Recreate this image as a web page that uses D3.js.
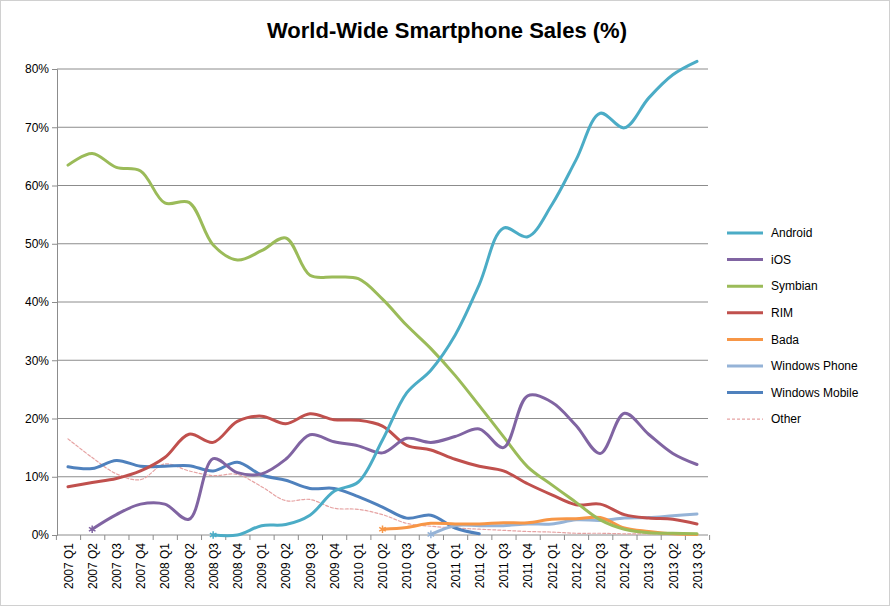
<!DOCTYPE html>
<html><head><meta charset="utf-8">
<script src="https://cdn.jsdelivr.net/npm/d3@7"></script>
<style>body{margin:0;background:#fff}</style></head>
<body><div id="chart"></div>
<script>
// quarters 2007 Q1 .. 2013 Q3
var quarters = [];
for (var y = 2007; y <= 2013; y++) {
    for (var q = 1; q <= 4; q++) {
        if (y === 2013 && q > 3) break;
        quarters.push(y + " Q" + q);
    }
}

// start index + values (%)
var series = [
    {name: "Android", color: "#4bacc6", start: 6, marker: true,
     values: [0, 0, 1.6, 1.8, 3.4, 7.5, 9.1, 16.3, 24.4, 28.3, 34.3, 43, 52.7, 51.2, 56.7, 64.4, 72.4, 69.9, 75, 79, 81.3]},
    {name: "iOS", color: "#8064a2", start: 1, marker: true,
     values: [1, 3.5, 5.3, 5.3, 2.7, 13.1, 10.7, 10.5, 13, 17.2, 16, 15.3, 14.1, 16.6, 15.9, 16.9, 18.2, 15.0, 23.9, 22.8, 18.8, 14.0, 20.9, 17.3, 14.0, 12.1]},
    {name: "Symbian", color: "#9bbb59", start: 0,
     values: [63.5, 65.5, 63.1, 62.5, 57, 57.1, 49.8, 47.2, 48.8, 51, 44.6, 44.3, 44, 40.5, 36, 32, 27.4, 22.2, 16.9, 11.7, 8.6, 5.6, 2.6, 1, 0.4, 0.3, 0.2]},
    {name: "RIM", color: "#c0504d", start: 0,
     values: [8.3, 9, 9.7, 11, 13.3, 17.3, 15.9, 19.5, 20.4, 19.1, 20.8, 19.8, 19.7, 18.7, 15.4, 14.6, 13.0, 11.8, 11.0, 8.8, 6.9, 5.2, 5.3, 3.5, 2.9, 2.7, 1.9]},
    {name: "Bada", color: "#f79646", start: 13, marker: true,
     values: [1, 1.3, 2, 1.9, 1.9, 2.1, 2.1, 2.7, 2.8, 3.0, 1.2, 0.6, 0.2, 0.1]},
    {name: "Windows Phone", color: "#95b3d7", start: 15, marker: true,
     values: [0.1, 1.6, 1.6, 1.6, 1.9, 1.9, 2.6, 2.5, 2.9, 3.0, 3.3, 3.6]},
    {name: "Windows Mobile", color: "#4f81bd", start: 0,
     values: [11.7, 11.4, 12.8, 11.8, 11.8, 11.9, 11.0, 12.5, 10.3, 9.4, 8, 8, 6.6, 4.8, 2.9, 3.4, 1.2, 0.2]},
    {name: "Other", color: "#e6a3a3", start: 0, dashed: true,
     values: [16.5, 13.3, 10.5, 9.5, 12.2, 11, 10.2, 10.4, 8.3, 5.9, 6.1, 4.6, 4.4, 3.5, 2.0, 1.5, 1.2, 1.0, 0.8, 0.6, 0.5, 0.3, 0.3, 0.2, 0.2, 0.2, 0.2]}
];

var W = 892, H = 608;
var margins = {left: 57, right: 184, top: 69, bottom: 73};

var svg = d3.select("#chart").append("svg:svg")
    .attr("width", W).attr("height", H)
    .style("font-family", "'Liberation Sans', Arial, sans-serif");

svg.append("rect").attr("x", 0.5).attr("y", 0.5).attr("width", W - 3).attr("height", H - 3)
    .attr("fill", "#fff").attr("stroke", "#d0d0d0");

var x = d3.scalePoint().domain(quarters).range([68, 697]);
var yScale = d3.scaleLinear().domain([0, 80]).range([535, 69]);

svg.append("text").attr("x", 447).attr("y", 38).attr("text-anchor", "middle")
    .style("font-size", "22px").style("font-weight", "bold").text("World-Wide Smartphone Sales (%)");

// gridlines
var grid = svg.append("g");
grid.selectAll("line").data(d3.range(10, 81, 10)).enter().append("line")
    .attr("x1", margins.left).attr("x2", 708)
    .attr("y1", function(d){ return yScale(d); }).attr("y2", function(d){ return yScale(d); })
    .attr("stroke", "#8c8c8c").attr("stroke-width", 1);

var yAxis = svg.append("g").attr("transform", "translate(" + margins.left + ",0)")
    .call(d3.axisLeft(yScale).tickValues(d3.range(0, 81, 10)).tickSize(5).tickFormat(function(d){ return d + "%"; }));
var xAxis = svg.append("g").attr("transform", "translate(0,535)")
    .call(d3.axisBottom(x).tickSize(0));
xAxis.select(".domain").attr("d", "M" + margins.left + ",0H708");
[yAxis, xAxis].forEach(function(a){
    a.selectAll(".domain, line").attr("stroke", "#8c8c8c");
    a.selectAll("text").style("font-size", "12px").style("font-family", "'Liberation Sans', Arial, sans-serif").attr("fill", "#000");
});
xAxis.selectAll(".tick").append("line").attr("y1", 0).attr("y2", 5).attr("stroke", "#8c8c8c")
    .attr("transform", "translate(" + (x.step() / 2) + ",0)");
xAxis.selectAll(".tick:first-of-type").append("line").attr("y2", 5).attr("stroke", "#8c8c8c")
    .attr("transform", "translate(" + (-x.step() / 2) + ",0)");
xAxis.selectAll("text").attr("transform", "rotate(-90)").attr("text-anchor", "end")
    .attr("x", -8).attr("y", 0).attr("dy", "0.35em");

var line = d3.line()
    .x(function(d){ return x(quarters[d.i]); })
    .y(function(d){ return yScale(d.v); })
    .curve(d3.curveCatmullRom.alpha(0.5));

var seriesContainer = svg.append("g");
series.slice().reverse().forEach(function(s){
    var pts = s.values.map(function(v, k){ return {i: s.start + k, v: v}; });
    seriesContainer.append("path").attr("d", line(pts)).attr("fill", "none")
        .attr("stroke", s.color).attr("stroke-width", s.dashed ? 1.2 : 3)
        .attr("stroke-dasharray", s.dashed ? "3,2" : null).attr("stroke-linecap", "round");
    if (s.marker) {
        seriesContainer.append("path").attr("d", d3.symbol().type(d3.symbolAsterisk).size(40)())
            .attr("transform", "translate(" + x(quarters[s.start]) + "," + yScale(s.values[0]) + ")")
            .attr("stroke", s.color).attr("stroke-width", 1.5).attr("fill", "none");
    }
});

// legend
var lg = svg.append("g").selectAll("g").data(series).enter().append("g")
    .attr("transform", function(d, i){ return "translate(727," + (233 + i * 26.6) + ")"; });
lg.append("line").attr("x1", 0).attr("x2", 36)
    .attr("stroke", function(d){ return d.color; })
    .attr("stroke-width", function(d){ return d.dashed ? 1.2 : 3; })
    .attr("stroke-dasharray", function(d){ return d.dashed ? "3,2" : null; });
lg.append("text").attr("x", 44).attr("dy", "0.35em").style("font-size", "12px").text(function(d){ return d.name; });
</script></body></html>
